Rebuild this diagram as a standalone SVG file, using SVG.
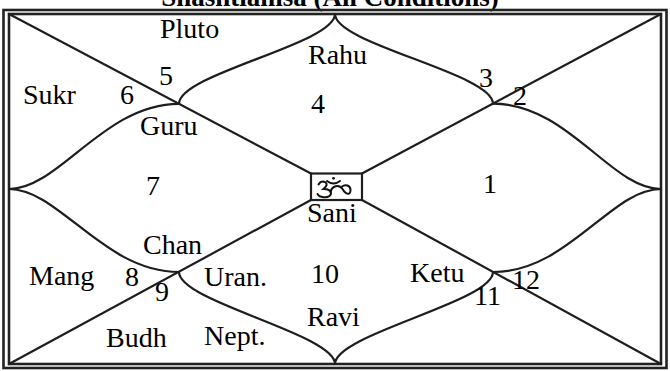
<svg xmlns="http://www.w3.org/2000/svg" width="670" height="371" viewBox="0 0 670 371">
<style>
.ln{fill:none;stroke:#1e1e1e;stroke-width:2.2;stroke-linecap:round}
.fr{fill:none;stroke:#222;stroke-width:2.6}
.t{font-family:"Liberation Serif","Times New Roman",serif;font-size:28px;fill:#000}
.ttl{font-family:"Liberation Serif","Times New Roman",serif;font-size:27px;font-weight:bold;fill:#000}
.om{fill:none;stroke:#111;stroke-width:2;stroke-linecap:round}
</style>
<rect width="670" height="371" fill="#fff"/>
<text class="ttl" x="330" y="6" text-anchor="middle">Shashtiamsa (All Conditions)</text>
<g id="frame">
<rect class="fr" x="3.5" y="10" width="663" height="358"/>
<rect class="fr" x="9" y="14" width="652" height="350"/>
</g>
<g id="connectors">
<path class="ln" d="M9,14 L311,173.5"/>
<path class="ln" d="M661,14 L362,173.5"/>
<path class="ln" d="M9,364 L311,200"/>
<path class="ln" d="M661,364 L362,200"/>
<path class="ln" d="M335,14 C335,44 179,73.8 179,103.8"/>
<path class="ln" d="M335,14 C335,44 493,73.6 493,103.6"/>
<path class="ln" d="M335,364 C335,334 179,302 179,272"/>
<path class="ln" d="M335,364 C335,334 493,302 493,272"/>
<path class="ln" d="M179,103.8 C104,103.8 59,189 9,189"/>
<path class="ln" d="M179,272 C104,272 59,189 9,189"/>
<path class="ln" d="M493,103.6 C568,103.6 611,189 661,189"/>
<path class="ln" d="M493,272 C568,272 611,189 661,189"/>
</g>
<g id="center">
<rect x="311" y="173.5" width="51" height="26.5" fill="#fff" stroke="#1e1e1e" stroke-width="2.2"/>
<path class="om" d="M318.5,184.5 Q321,180.5 325,182 Q329,184.5 323.5,189 Q331,189 331,193.5 Q330,198 322.5,197 Q318.5,196.5 317.5,194"/>
<path class="om" d="M330.5,192 C332,185.5 339,184 342.5,189 C346,195 350.5,195.5 350.5,190 C350.5,185 345,184 342,186.5"/>
<path class="om" stroke-width="1.5" d="M327,181 Q333.5,186 340,181"/>
<circle cx="333.5" cy="178.3" r="1.4" fill="#111"/>
</g>
<g id="house1"><text class="t" x="483" y="193">1</text></g>
<g id="house2"><text class="t" x="513" y="105">2</text></g>
<g id="house3"><text class="t" x="479" y="87">3</text></g>
<g id="house4"><text class="t" x="311" y="113">4</text><text class="t" x="308" y="64">Rahu</text></g>
<g id="house5"><text class="t" x="159" y="85">5</text><text class="t" x="160" y="38">Pluto</text></g>
<g id="house6"><text class="t" x="120" y="104">6</text><text class="t" x="23" y="104">Sukr</text></g>
<g id="house7"><text class="t" x="146" y="195">7</text><text class="t" x="140" y="135">Guru</text></g>
<g id="house8"><text class="t" x="125" y="286">8</text><text class="t" x="29" y="285">Mang</text><text class="t" x="143" y="254">Chan</text></g>
<g id="house9"><text class="t" x="155" y="301">9</text><text class="t" x="106" y="347">Budh</text></g>
<g id="house10"><text class="t" x="311" y="283">10</text><text class="t" x="307" y="222">Sani</text><text class="t" x="204" y="286">Uran.</text><text class="t" x="204" y="345">Nept.</text><text class="t" x="307" y="326">Ravi</text></g>
<g id="house11"><text class="t" x="474" y="305">11</text><text class="t" x="410" y="282">Ketu</text></g>
<g id="house12"><text class="t" x="512" y="289">12</text></g>
</svg>
